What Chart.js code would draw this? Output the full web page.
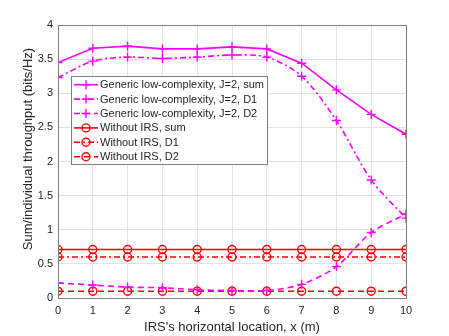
<!DOCTYPE html>
<html>
<head>
<meta charset="utf-8">
<script src="https://cdn.jsdelivr.net/npm/chart.js@4"></script>
<style>
    html, body { margin: 0; padding: 0; background: #fff; }
    #wrap { width: 449px; height: 336px; }
</style>
</head>
<body>
<div id="wrap"><canvas id="chart" width="449" height="336"></canvas></div>
<script>
// Data
const xValues = [0, 1, 2, 3, 4, 5, 6, 7, 8, 9, 10]
const genericSum = [3.45, 3.66, 3.69, 3.65, 3.65, 3.68, 3.65, 3.44, 3.05, 2.69, 2.40]
const genericD1 = [3.23, 3.47, 3.53, 3.51, 3.53, 3.56, 3.53, 3.25, 2.60, 1.73, 1.17]
const genericD2 = [0.22, 0.19, 0.16, 0.15, 0.12, 0.11, 0.11, 0.20, 0.46, 0.96, 1.23]
const noIrsSum = [0.71, 0.71, 0.71, 0.71, 0.71, 0.71, 0.71, 0.71, 0.71, 0.71, 0.71]
const noIrsD1 = [0.60, 0.60, 0.60, 0.60, 0.60, 0.60, 0.60, 0.60, 0.60, 0.60, 0.60]
const noIrsD2 = [0.10, 0.10, 0.10, 0.10, 0.10, 0.10, 0.10, 0.10, 0.10, 0.10, 0.10]
const seriesLabels = [
    'Generic low-complexity, J=2, sum',
    'Generic low-complexity, J=2, D1',
    'Generic low-complexity, J=2, D2',
    'Without IRS, sum',
    'Without IRS, D1',
    'Without IRS, D2'
]
const xTitle = "IRS's horizontal location, x (m)"
const yTitle = 'Sum/individual throughput (bits/Hz)'

const MAGENTA = '#ff00ff'
const RED = '#ff0000'
const AXIS_COLOR = '#262626'
const FONT = '"Liberation Sans", Arial, Helvetica, sans-serif'

function makeSet(label, values, color, dash, marker, tension) {
    return {
        label: label,
        data: xValues.map((x, i) => ({ x: x, y: values[i] })),
        borderColor: color,
        backgroundColor: 'rgba(0,0,0,0)',
        borderWidth: 1.6,
        borderDash: dash,
        pointStyle: marker,
        pointRadius: marker === 'circle' ? 4 : 4.5,
        pointBorderWidth: 1.4,
        pointBorderColor: color,
        pointBackgroundColor: 'rgba(0,0,0,0)',
        tension: tension,
        fill: false
    }
}

const datasets = [
    makeSet(seriesLabels[0], genericSum, MAGENTA, [], 'cross', 0),
    makeSet(seriesLabels[1], genericD1, MAGENTA, [6, 3, 2, 3], 'cross', 0.3),
    makeSet(seriesLabels[2], genericD2, MAGENTA, [6, 4], 'cross', 0.3),
    makeSet(seriesLabels[3], noIrsSum, RED, [], 'circle', 0),
    makeSet(seriesLabels[4], noIrsD1, RED, [6, 3, 2, 3], 'circle', 0),
    makeSet(seriesLabels[5], noIrsD2, RED, [6, 4], 'circle', 0)
]

// Box around the plot, y label, and legend placed inside the axes (MATLAB style)
const boxAndLegend = {
    id: 'boxAndLegend',
    afterDatasetsDraw(chart) {
        const ctx = chart.ctx
        const a = chart.chartArea
        ctx.save()
        ctx.strokeStyle = '#7f7f7f'
        ctx.lineWidth = 1
        ctx.setLineDash([])
        ctx.strokeRect(Math.round(a.left) + 0.5, Math.round(a.top) + 0.5,
            Math.round(a.right - a.left), Math.round(a.bottom - a.top))

        // y axis label
        ctx.save()
        ctx.translate(28, 149)
        ctx.rotate(-Math.PI / 2)
        ctx.font = '13px ' + FONT
        ctx.fillStyle = AXIS_COLOR
        ctx.textAlign = 'center'
        ctx.textBaseline = 'middle'
        ctx.fillText(yTitle, 0, 0)
        ctx.restore()

        // legend box
        const lx = 71, ly = 76, lw = 196, lh = 88
        const rowH = 14.4
        ctx.fillStyle = '#fff'
        ctx.fillRect(lx, ly, lw, lh)
        ctx.strokeStyle = '#7f7f7f'
        ctx.strokeRect(lx + 0.5, ly + 0.5, lw, lh)

        ctx.font = '11px ' + FONT
        ctx.textBaseline = 'middle'
        chart.data.datasets.forEach((ds, i) => {
            const y = ly + 8.7 + i * rowH
            ctx.strokeStyle = ds.borderColor
            ctx.lineWidth = ds.borderWidth
            ctx.setLineDash(ds.borderDash)
            ctx.beginPath()
            ctx.moveTo(lx + 3, y)
            ctx.lineTo(lx + 27, y)
            ctx.stroke()
            ctx.setLineDash([])
            ctx.lineWidth = ds.pointBorderWidth
            ctx.fillStyle = 'rgba(0,0,0,0)'
            Chart.helpers.drawPoint(ctx, {
                pointStyle: ds.pointStyle,
                radius: ds.pointRadius,
                borderWidth: ds.pointBorderWidth,
                rotation: 0
            }, lx + 15, y)
            ctx.fillStyle = AXIS_COLOR
            ctx.fillText(ds.label, lx + 29, y + 0.5)
        })
        ctx.restore()
    }
}

new Chart(document.getElementById('chart'), {
    type: 'line',
    data: { datasets: datasets },
    options: {
        responsive: false,
        animation: false,
        layout: { padding: { left: 0, right: 43, top: 25, bottom: 0 } },
        plugins: {
            legend: { display: false },
            tooltip: { enabled: false }
        },
        scales: {
            x: {
                type: 'linear',
                min: 0,
                max: 10,
                ticks: { stepSize: 1, color: AXIS_COLOR, padding: 6, font: { family: FONT, size: 11 } },
                grid: { color: '#e3e3e3', drawTicks: false },
                border: { display: false },
                title: {
                    display: true,
                    text: xTitle,
                    color: AXIS_COLOR,
                    font: { family: FONT, size: 13 },
                    padding: { top: 0, bottom: 1 }
                },
                afterFit(scale) { scale.height = 38 }
            },
            y: {
                min: 0,
                max: 4,
                ticks: {
                    stepSize: 0.5,
                    color: AXIS_COLOR,
                    padding: 5,
                    font: { family: FONT, size: 11 },
                    callback: v => String(Number(v))
                },
                grid: { color: '#e3e3e3', drawTicks: false },
                border: { display: false },
                afterFit(scale) { scale.width = 58 }
            }
        }
    },
    plugins: [boxAndLegend]
})
</script>
</body>
</html>
